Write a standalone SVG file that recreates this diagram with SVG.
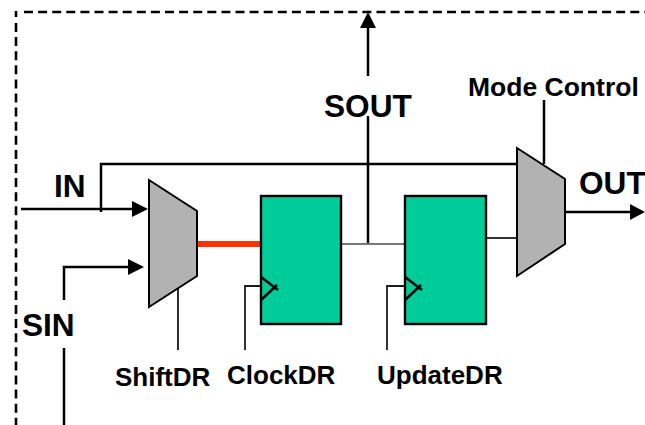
<svg xmlns="http://www.w3.org/2000/svg" width="645" height="425" viewBox="0 0 645 425">
<style>
text{font-family:"Liberation Sans",Arial,sans-serif;font-weight:700;fill:#000}
.big{font-size:31.6px}
.small{font-size:26px}
.mode{font-size:26.5px}
.w{fill:none;stroke:#000;stroke-width:2.5}
.dash{fill:none;stroke:#000;stroke-width:2.6;stroke-dasharray:9 5.1}
.thin{fill:none;stroke:#1a1a1a;stroke-width:1.8}
.mux{fill:#b2b2b2;stroke:#000;stroke-width:2}
.reg{fill:#00cc99;stroke:#000;stroke-width:2.4}
.head{fill:#000;stroke:none}
</style>
<rect width="645" height="425" fill="#fff"/>
<g id="connectors">
<path class="dash" d="M16 11V17"/>
<path class="dash" d="M16 23V425"/>
<path class="dash" d="M24 12H645"/>
<path class="w" d="M21 209H134"/>
<path class="head" d="M132 201L148 209L132 217Z"/>
<path class="w" d="M101 212V164H517"/>
<path class="w" d="M64 300V267H129"/>
<path class="w" d="M64 348V425"/>
<path class="head" d="M128 259L144 267L128 275Z"/>
<path fill="none" stroke="#ff3300" stroke-width="6" d="M197 244H261"/>
<path class="thin" d="M178 288V350"/>
<path class="thin" d="M245 350V286H261"/>
<path class="thin" d="M387 350V286H405"/>
<path fill="none" stroke="#777" stroke-width="2" d="M341 244H405"/>
<path class="w" d="M368 243V116"/>
<path class="w" d="M368 76V26"/>
<path class="head" d="M360 28L368 12L376 28Z"/>
<path class="w" d="M544 100V164"/>
<path class="thin" d="M486 238H517"/>
<path class="w" d="M565 212H632"/>
<path class="head" d="M630 204L645 212L630 220Z"/>
</g>
<g id="mux-shift"><path class="mux" d="M149 180L197 211V276L149 307Z"/></g>
<g id="reg-capture"><rect class="reg" x="261" y="196" width="80" height="128"/><path class="w" d="M261 277L278 290M261 300L277 285"/></g>
<g id="reg-update"><rect class="reg" x="405" y="196" width="81" height="128"/><path class="w" d="M405 277L422 290M405 300L421 285"/></g>
<g id="mux-mode"><path class="mux" d="M517 148L565 179V244L517 276Z"/></g>
<g id="labels">
<text class="big" x="54" y="197">IN</text>
<text class="big" x="22" y="336">SIN</text>
<text class="big" x="324" y="117">SOUT</text>
<text class="big" x="579" y="194">OUT</text>
<text class="small mode" x="468" y="96">Mode Control</text>
<text class="small" x="115" y="386">ShiftDR</text>
<text class="small" x="227" y="384">ClockDR</text>
<text class="small" x="377" y="384">UpdateDR</text>
</g>
</svg>
